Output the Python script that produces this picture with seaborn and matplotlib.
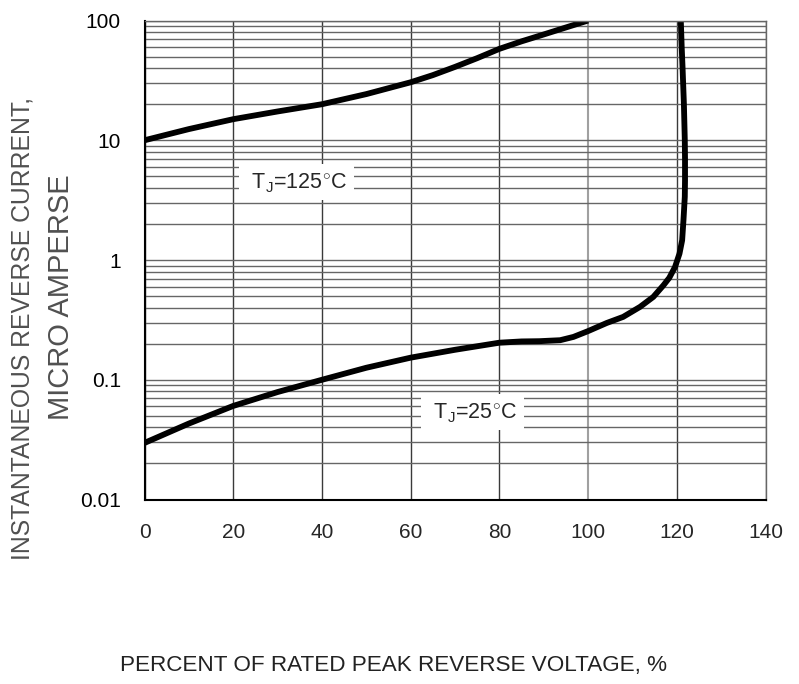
import numpy as np
import matplotlib
matplotlib.use('Agg')
import matplotlib.pyplot as plt
import seaborn as sns
from matplotlib.ticker import LogLocator, FixedLocator, NullFormatter

# Data
volt_125 = [0, 10, 20, 30, 40, 50, 60, 65, 70, 75, 80, 85, 90, 95, 100]
curr_125 = [10, 12.4, 15, 17.4, 20, 24.3, 30.5, 35, 41, 48.5, 58, 67, 76.5, 87.5, 100]

volt_25 = [0, 10, 20, 30, 40, 50, 60, 70, 80, 85, 89, 93.7, 96.7, 100, 104.2, 107.9,
           111.7, 114.7, 117.0, 118.3, 119.6, 120.6, 121.2, 121.5, 121.8, 121.85,
           121.85, 121.8, 121.6, 121.3, 121.1, 120.9]
curr_25 = [0.0297, 0.0431, 0.0605, 0.079, 0.1, 0.126, 0.153, 0.178, 0.204, 0.209, 0.21,
           0.214, 0.228, 0.255, 0.298, 0.335, 0.406, 0.492, 0.616, 0.71, 0.875, 1.13,
           1.46, 2.15, 3.37, 4.6, 7, 10, 20, 40, 60, 100]

x_ticks = [0, 20, 40, 60, 80, 100, 120, 140]
y_ticks = [0.01, 0.1, 1, 10, 100]
y_tick_labels = ['0.01', '0.1', '1', '10', '100']

sns.set_style('white')
plt.rcParams['font.family'] = ['Liberation Sans', 'DejaVu Sans']
plt.rcParams['mathtext.fontset'] = 'custom'
plt.rcParams['mathtext.rm'] = 'Liberation Sans'
plt.rcParams['mathtext.it'] = 'Liberation Sans'

fig = plt.figure(figsize=(7.99, 6.84), dpi=100)
ax = fig.add_axes([0.1809, 0.2697, 0.7772, 0.7003])

ax.set_yscale('log')
ax.set_xlim(0, 140)
ax.set_ylim(0.01, 100)

# grid
ax.yaxis.set_major_locator(FixedLocator(y_ticks))
ax.yaxis.set_minor_locator(LogLocator(base=10, subs=np.arange(2, 10)))
ax.yaxis.set_minor_formatter(NullFormatter())
ax.set_yticks(y_ticks)
ax.set_yticklabels(y_tick_labels)
ax.set_xticks(x_ticks)
ax.set_xticklabels([str(v) for v in x_ticks])
ax.grid(True, axis='y', which='both', color='#666666', linewidth=1.0)
ax.grid(True, axis='x', which='major', color='#3a3a3a', linewidth=1.0)
for gl, xv in zip(ax.get_xgridlines(), x_ticks):
    if xv == 100:
        gl.set_color('#a0a0a0')
        gl.set_linewidth(1.5)
ax.set_axisbelow(True)

sns.lineplot(x=volt_125, y=curr_125, sort=False, estimator=None, color='black',
             linewidth=4.2, ax=ax)
sns.lineplot(x=volt_25, y=curr_25, sort=False, estimator=None, color='black',
             linewidth=4.2, ax=ax)
for ln in ax.get_lines():
    ln.set_solid_joinstyle('round')
    ln.set_solid_capstyle('butt')

for side in ['left', 'bottom']:
    ax.spines[side].set_color('black')
    ax.spines[side].set_linewidth(1.5)
for side in ['top', 'right']:
    ax.spines[side].set_color('#666666')
    ax.spines[side].set_linewidth(1.0)

ax.tick_params(axis='y', which='major', direction='in', length=6, width=1,
               pad=17, labelsize=15, colors='black')
ax.tick_params(axis='y', which='minor', length=0)
ax.tick_params(axis='x', which='major', length=0, pad=17, labelsize=15)

box = dict(boxstyle='square,pad=0.3', facecolor='white', edgecolor='none')
ax.text(34.3, 4.47, r' T$_\mathregular{J}$=125$^{\circ}$C ', fontsize=15.5,
        ha='center', va='center', bbox=box)
ax.text(74, 0.0538, r' T$_\mathregular{J}$=25$^{\circ}$C ', fontsize=15.5,
        ha='center', va='center', bbox=box)

fig.text(23 / 799, 1 - 329 / 684, 'INSTANTANEOUS REVERSE CURRENT,', rotation=90,
         ha='center', va='center', fontsize=17.8, color='#505050')
fig.text(61 / 799, 1 - 297 / 684, 'MICRO AMPERSE', rotation=90,
         ha='center', va='center', fontsize=21, color='#505050')
fig.text(394 / 799, 1 - 665 / 684, 'PERCENT OF RATED PEAK REVERSE VOLTAGE, %',
         ha='center', va='center', fontsize=16.2, color='#222222')

fig.savefig('out.png', dpi=100)
